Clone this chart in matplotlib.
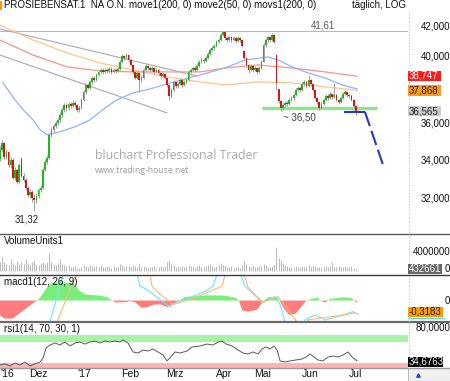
import numpy as np
import matplotlib
matplotlib.use("Agg")
import matplotlib.pyplot as plt
from matplotlib.patches import Rectangle
from matplotlib.lines import Line2D
from matplotlib.ticker import NullLocator, NullFormatter
from matplotlib.transforms import blended_transform_factory

plt.rcParams['font.family'] = ['Liberation Sans', 'DejaVu Sans']

# ---------------- data ----------------
opens = [34.00, 34.51, 34.89, 34.13, 34.40, 33.70, 33.97, 33.02, 33.44, 32.82,
         34.00, 33.13, 32.92, 32.50, 32.15, 32.30, 32.00, 31.90, 32.10, 32.40,
         32.50, 33.44, 33.86, 34.08, 35.33, 35.61, 35.83, 36.00, 36.17, 36.46,
         36.74, 37.03, 36.86, 37.09, 36.97, 37.15, 37.03, 36.74, 36.86, 37.33,
         37.80, 38.22, 38.04, 38.40, 38.64, 38.52, 38.82, 39.01, 39.13, 39.01,
         39.13, 39.07, 39.19, 39.01, 39.13, 39.07, 39.19, 39.63, 40.00, 39.87,
         40.06, 39.75, 39.44, 39.01, 38.64, 38.95, 38.52, 38.64, 39.13, 39.38,
         39.25, 39.13, 39.25, 39.01, 39.13, 38.95, 38.76, 38.88, 38.64, 38.22,
         37.56, 37.92, 38.40, 38.16, 38.28, 38.52, 38.22, 38.40, 38.52, 39.01,
         39.13, 39.25, 39.13, 39.38, 39.63, 39.75, 39.69, 39.87, 40.12, 40.38,
         40.51, 40.64, 40.89, 41.02, 41.34, 41.54, 41.15, 41.02, 41.21, 41.02,
         41.15, 40.96, 41.15, 41.02, 40.30, 39.87, 39.44, 39.13, 39.38, 39.13,
         39.25, 39.01, 39.25, 39.63, 40.70, 41.02, 41.21, 41.02, 41.34, 40.06,
         37.95, 37.27, 36.86, 37.03, 37.15, 37.09, 37.33, 37.45, 37.62, 37.92,
         38.04, 37.92, 38.28, 38.40, 38.16, 38.52, 38.28, 37.92, 37.45, 37.21,
         36.86, 37.09, 37.33, 37.56, 37.45, 37.68, 37.50, 37.62, 37.33, 37.21,
         37.45, 37.68, 37.80, 37.62, 37.56, 37.33, 36.97]
closes = [34.51, 34.89, 34.13, 34.40, 33.70, 33.97, 33.02, 33.44, 32.82, 33.70,
          33.13, 32.92, 32.50, 32.15, 32.30, 32.00, 31.90, 32.10, 32.40, 32.50,
          33.44, 33.86, 34.08, 35.33, 35.61, 35.83, 36.00, 36.17, 36.46, 36.74,
          37.03, 36.86, 37.09, 36.97, 37.15, 37.03, 36.74, 36.86, 37.33, 37.80,
          38.22, 38.04, 38.40, 38.64, 38.52, 38.82, 39.01, 39.13, 39.01, 39.13,
          39.07, 39.19, 39.01, 39.13, 39.07, 39.19, 39.63, 40.00, 39.87, 40.06,
          39.75, 39.44, 39.01, 38.64, 38.95, 38.52, 38.64, 39.13, 39.38, 39.25,
          39.13, 39.25, 39.01, 39.13, 38.95, 38.76, 38.88, 38.64, 38.22, 37.56,
          37.92, 38.40, 38.16, 38.28, 38.52, 38.22, 38.40, 38.52, 39.01, 39.13,
          39.25, 39.13, 39.38, 39.63, 39.75, 39.69, 39.87, 40.12, 40.38, 40.51,
          40.64, 40.89, 41.02, 41.34, 41.54, 41.15, 41.02, 41.21, 41.02, 41.15,
          40.96, 41.15, 41.02, 40.64, 39.87, 39.44, 39.13, 39.38, 39.13, 39.25,
          39.01, 39.25, 39.63, 40.70, 41.02, 41.21, 41.02, 41.34, 40.89, 38.34,
          37.27, 36.86, 37.03, 37.15, 37.09, 37.33, 37.45, 37.62, 37.92, 38.04,
          37.92, 38.28, 38.40, 38.16, 38.52, 38.28, 37.92, 37.45, 37.21, 36.86,
          37.09, 37.33, 37.56, 37.45, 37.68, 37.50, 37.62, 37.33, 37.21, 37.45,
          37.68, 37.80, 37.62, 37.56, 37.33, 36.97, 36.57]
highs = [34.70, 35.05, 34.95, 34.55, 34.45, 34.10, 34.05, 33.60, 33.50, 33.80,
         34.10, 33.25, 33.00, 32.60, 32.45, 32.40, 32.20, 32.25, 32.50, 32.65,
         33.55, 34.00, 34.20, 35.45, 35.75, 35.95, 36.10, 36.30, 36.60, 36.90,
         37.15, 37.15, 37.20, 37.20, 37.30, 37.25, 37.10, 37.00, 37.45, 37.90,
         38.35, 38.35, 38.50, 38.75, 38.75, 38.95, 39.15, 39.25, 39.25, 39.25,
         39.25, 39.30, 39.30, 39.25, 39.25, 39.30, 39.75, 40.10, 40.06, 40.19,
         40.10, 39.85, 39.50, 39.05, 39.05, 39.00, 38.80, 39.25, 39.50, 39.45,
         39.35, 39.35, 39.30, 39.25, 39.20, 39.00, 39.00, 38.95, 38.70, 38.30,
         38.05, 38.50, 38.45, 38.40, 38.65, 38.60, 38.50, 38.65, 39.10, 39.25,
         39.35, 39.35, 39.50, 39.75, 39.85, 39.85, 40.00, 40.25, 40.50, 40.65,
         40.75, 41.00, 41.15, 41.45, 41.61, 41.55, 41.25, 41.30, 41.30, 41.25,
         41.20, 41.25, 41.20, 41.05, 40.35, 39.95, 39.50, 39.50, 39.45, 39.35,
         39.30, 39.35, 39.75, 40.80, 41.15, 41.30, 41.30, 41.45, 41.40, 40.15,
         38.00, 37.35, 37.15, 37.25, 37.25, 37.45, 37.55, 37.75, 38.05, 38.15,
         38.15, 38.40, 38.50, 38.45, 38.82, 38.60, 38.35, 38.00, 37.50, 37.25,
         37.20, 37.45, 37.65, 37.65, 37.80, 37.75, 38.34, 37.70, 37.40, 37.55,
         37.80, 37.90, 37.85, 37.70, 37.65, 37.40, 37.00]
lows = [33.90, 34.40, 34.00, 34.00, 33.60, 33.55, 32.95, 32.90, 32.70, 32.75,
        33.05, 32.80, 32.40, 32.05, 32.00, 31.80, 31.32, 31.75, 32.00, 32.30,
        32.45, 33.35, 33.75, 34.00, 35.20, 35.50, 35.70, 35.90, 36.05, 36.35,
        36.65, 36.70, 36.75, 36.85, 36.90, 36.90, 36.60, 36.60, 36.80, 37.25,
        37.70, 37.95, 37.95, 38.30, 38.40, 38.45, 38.75, 38.90, 38.90, 38.95,
        38.95, 38.95, 38.90, 38.95, 38.95, 39.00, 39.10, 39.55, 39.75, 39.80,
        39.65, 39.35, 38.90, 38.55, 38.55, 37.80, 38.40, 38.60, 39.05, 39.10,
        39.00, 39.05, 38.90, 38.95, 38.85, 38.65, 38.70, 38.55, 38.10, 37.33,
        37.45, 37.85, 38.05, 38.05, 38.20, 38.10, 38.15, 38.30, 38.45, 38.95,
        39.05, 39.00, 39.05, 39.30, 39.55, 39.55, 39.60, 39.80, 40.05, 40.30,
        40.40, 40.55, 40.80, 40.95, 41.25, 41.05, 40.90, 40.95, 40.90, 40.95,
        40.85, 40.90, 40.90, 40.55, 39.75, 39.30, 38.95, 39.05, 39.00, 39.05,
        38.90, 38.95, 39.20, 39.60, 40.60, 40.90, 40.90, 40.95, 40.80, 37.92,
        37.15, 36.70, 36.75, 36.90, 36.95, 37.00, 37.25, 37.35, 37.55, 37.85,
        37.80, 37.85, 38.15, 38.05, 38.10, 38.15, 37.80, 37.35, 37.10, 36.75,
        36.80, 37.00, 37.25, 37.35, 37.40, 37.40, 37.45, 37.25, 37.10, 37.15,
        37.40, 37.60, 37.50, 37.45, 37.25, 36.85, 36.45]
volume_mio = [1.8, 3.0, 2.0, 1.5, 1.2, 2.5, 1.6, 1.3, 2.2, 1.5,
              1.8, 1.4, 2.6, 1.6, 1.2, 1.9, 2.4, 1.5, 1.3, 1.6,
              1.8, 1.4, 2.0, 3.7, 1.9, 1.5, 1.3, 1.6, 2.6, 1.4,
              1.2, 1.0, 1.3, 0.9, 0.8, 1.1, 0.7, 0.6, 0.9, 1.2,
              1.0, 0.9, 1.3, 1.1, 0.8, 1.0, 0.9, 1.2, 0.8, 0.9,
              1.0, 0.8, 0.7, 1.1, 0.9, 0.8, 1.4, 1.2, 0.9, 1.0,
              1.1, 0.9, 1.3, 1.0, 0.8, 1.6, 0.9, 1.1, 0.8, 0.7,
              0.9, 0.8, 1.0, 0.7, 0.9, 1.1, 0.8, 1.0, 1.8, 2.3,
              1.5, 1.2, 0.9, 1.0, 0.8, 1.1, 0.9, 0.8, 1.2, 1.0,
              0.9, 0.8, 1.1, 1.3, 0.9, 0.8, 1.0, 1.2, 1.4, 1.1,
              0.9, 1.0, 1.2, 1.6, 1.3, 1.1, 0.9, 0.8, 1.0, 0.7,
              0.8, 0.9, 0.7, 1.2, 2.2, 1.4, 1.0, 0.8, 1.3, 0.9,
              0.8, 1.0, 1.1, 1.5, 1.2, 0.9, 0.8, 1.0, 1.3, 5.1,
              2.7, 2.3, 1.6, 1.2, 1.0, 0.8, 0.9, 0.7, 1.0, 0.8,
              0.9, 1.1, 0.8, 0.9, 1.2, 0.8, 1.0, 1.1, 0.9, 0.8,
              0.7, 0.9, 1.0, 0.8, 1.1, 2.0, 0.9, 0.8, 1.0, 0.9,
              0.8, 1.0, 0.9, 0.8, 1.1, 0.7, 0.43]

# moving averages (day index, price)
ma_slow_x = [0, 15.4, 31.3, 46.7, 62.1, 77.9, 93.3, 105, 120.4, 136.3, 151.7, 166.6]
ma_orange = [42.00, 41.02, 40.19, 39.56, 39.13, 38.70, 38.40, 38.22, 38.40, 38.34, 38.10, 37.90]
ma_red = [41.02, 40.06, 39.32, 39.07, 39.01, 39.01, 39.01, 39.25, 39.44, 39.25, 39.01, 38.75]
ma_blue_x = [1.4, 7, 11.7, 15.4, 18.7, 21.9, 28, 35, 42, 49, 54.6, 62.1, 70, 77.9,
             93.3, 105, 114.3, 125.1, 129.7, 136.3, 143.7, 151.7, 159.6, 166.6]
ma_blue = [38.34, 37.33, 36.63, 36.17, 35.61, 35.33, 35.50, 35.78, 36.17, 36.86, 37.33, 37.74, 37.98, 38.28,
           38.82, 39.25, 39.75, 39.94, 39.75, 39.32, 38.95, 38.64, 38.22, 37.98]

trend_a = ([0, 91.9], [41.74, 38.76])
trend_b = ([0, 77.9], [40.06, 36.57])
resistance = 41.61
support = ([122.3, 175.9], [36.86, 36.86])
proj_flat = ([160.5, 170.3], [36.63, 36.63])
proj_down = ([170.3, 179.2], [36.63, 33.54])

# MACD (day index, value)
hist_x = [0, 2, 6, 10, 16, 17.5, 19, 22, 24, 27, 34, 37, 40, 47, 50, 52.5, 54, 58, 61, 63,
          66, 69, 72, 75, 78, 81, 84, 86, 88, 93, 97, 105, 110, 111.5, 113, 116, 120, 123, 125, 129,
          130.5, 132, 135, 138, 141, 143, 148, 149.5, 152, 154, 160, 164, 165.5, 166.5]
hist_v = [-0.45, -0.55, -0.55, -0.35, -0.05, 0.0, 0.12, 0.40, 0.53, 0.56, 0.54, 0.30, 0.18, 0.15, 0.10, 0.0, -0.06, -0.05, -0.02, -0.05,
          -0.22, -0.2, -0.12, -0.12, -0.2, -0.08, 0.0, 0.1, 0.12, 0.14, 0.16, 0.15, 0.08, 0.0, -0.3, -0.34, -0.28, 0.0, 0.1, 0.12,
          0.0, -0.2, -0.44, -0.4, -0.15, 0.0, 0.1, 0.0, -0.06, 0.05, 0.1, 0.08, 0.0, -0.08]
macd_x = [16.3, 23.3, 29.4, 35.0, 51.3, 62.5, 65.3, 68.6, 74.7, 79.3, 82.1, 88.7, 95.7, 99.4, 103.6,
          109.7, 114.3, 122.3, 128.3, 130.7, 133.0, 136.3, 141.4, 142.3, 147.0, 151.7, 158.7, 164.7, 166.6]
macd_v = [-2.47, -0.66, 0.78, 1.91, 3.16, 1.22, 0.44, 0.34, 0.03, -0.19, -0.06, 0.09, 0.28, 0.44, 1.22,
          1.22, 0.44, -0.06, 0.12, -0.12, -0.66, -1.38, -0.91, -0.59, -0.44, -0.59, -0.47, -0.34, -0.41]
signal_x = [21.0, 26.6, 33.6, 39.7, 56.0, 69.1, 70.9, 74.7, 80.7, 84.0, 91.0, 98.0, 103.6, 106.4, 112.0,
            115.7, 122.7, 129.7, 134.4, 138.6, 141.4, 143.7, 154.0, 165.7, 167.1]
signal_v = [-2.47, -0.66, 0.5, 1.28, 2.53, 1.13, 0.44, 0.19, -0.12, -0.06, 0.09, 0.28, 0.44, 1.13, 1.22,
            0.41, -0.06, 0.12, -0.28, -0.66, -1.06, -0.59, -0.5, -0.38, -0.41]

# RSI (day index, value)
rsi_x = [0, 2.3, 4.7, 7, 9.3, 11.7, 14, 16.3, 18.7, 20.1, 21.5, 23.3, 25.7, 28, 30.3, 32.7, 35, 37.3,
         39.7, 42, 44.3, 46.7, 49, 51.3, 53.7, 56, 57.4, 59.7, 62.1, 64.4, 66.7, 69.1, 71.4, 73.7,
         76.1, 77.9, 79.3, 81.7, 84, 87.3, 89.6, 93.3, 96.6, 99.4, 101.7, 103.6, 105.5, 108.3, 111.1,
         113.4, 115.7, 118.1, 120.4, 122.3, 124.1, 126, 127.9, 129.3, 130.7, 133, 135.3, 138.1, 140.9,
         142.8, 144.7, 146.5, 148.4, 150.7, 153.1, 155.4, 157.7, 160.1, 162.4, 164.3, 166.6]
rsi_v = [29.3, 30.7, 28, 32, 29.3, 33.3, 28, 30.7, 33.3, 38.7, 52, 56, 58.7, 56, 60, 54.7, 58.7, 60,
         57.3, 60, 61.3, 58.7, 61.3, 60, 61.3, 60, 62.7, 58.7, 46.7, 45.3, 49.3, 48, 50.7, 46.7,
         42.7, 34.7, 38.7, 46.7, 45.3, 48, 53.3, 54.7, 57.3, 56, 60, 61.3, 57.3, 54.7, 49.3,
         45.3, 44, 46.7, 44, 50.7, 53.3, 50.7, 54.7, 49.3, 34.7, 33.3, 34.7, 36, 37.3,
         40, 44, 40, 36, 34.7, 40, 41.3, 40, 42.7, 46.7, 40, 34.7]

month_pos = [0.3, 18.0, 39.2, 60.7, 81.7, 104.5, 122.3, 144.7, 165.7]
month_lbl = ["'16", "Dez", "'17", "Feb", "Mrz", "Apr", "Mai", "Jun", "Jul"]
price_ticks = [32, 34, 36, 40, 42]
price_tick_lbl = ["32,000", "34,000", "36,000", "40,000", "42,000"]

# ---------------- layout helpers ----------------
W, H = 450, 381
def fx(x): return x / W
def fy(y): return 1 - y / H

fig = plt.figure(figsize=(4.5, 3.81), dpi=100)
fig.patch.set_facecolor('white')
XMAX = 408 / 2.143

def add_ax(y0, y1):
    ax = fig.add_axes([0, fy(y1), 408 / W, (y1 - y0) / H])
    ax.set_xlim(0, XMAX)
    for s in ax.spines.values():
        s.set_visible(False)
    ax.tick_params(left=False, bottom=False, right=False, labelleft=False, labelbottom=False)
    ax.set_facecolor('none')
    return ax

# ---------------- main price panel ----------------
ax = add_ax(12, 234)
ax.set_yscale('log')
ax.set_ylim(30.22, 42.87)
ax.yaxis.set_minor_locator(NullLocator())
ax.yaxis.set_minor_formatter(NullFormatter())
ax.yaxis.tick_right()
ax.set_yticks(price_ticks)
ax.set_yticklabels(price_tick_lbl)
ax.tick_params(axis='y', which='major', length=0, pad=42 * 0.72, labelsize=7,
               labelright=True, labelleft=False, labelcolor='#111111')
for lbl in ax.get_yticklabels():
    lbl.set_horizontalalignment('right')

ax.axhline(resistance, color='#b8b8b8', lw=0.8, zorder=1)
ax.plot(*trend_a, color='#a9a9a9', lw=0.8, zorder=1)
ax.plot(*trend_b, color='#a9a9a9', lw=0.8, zorder=1)
ax.plot(ma_slow_x, ma_orange, color='#ffc58a', lw=0.9, zorder=1)
ax.plot(ma_slow_x, ma_red, color='#ff8f8f', lw=0.9, zorder=1)
ax.plot(ma_blue_x, ma_blue, color='#92b2ff', lw=0.9, zorder=1)
ax.plot(*support, color='#90e290', lw=2.4, solid_capstyle='butt', zorder=2)

x = np.arange(len(closes))
o = np.array(opens); c = np.array(closes)
ax.vlines(x, lows, highs, color='#a0a0a0', lw=0.7, zorder=3)
cols = np.where(c >= o, '#1fb81f', '#d81515')
ax.bar(x, np.maximum(np.abs(c - o), 0.05), bottom=np.minimum(o, c), width=0.85,
       color=cols, linewidth=0, zorder=4)

ax.plot(*proj_flat, color='#2638c8', lw=1.5, solid_capstyle='butt', zorder=5)
ax.plot(*proj_down, color='#2638c8', lw=1.5, dashes=(7.2, 2.4), zorder=5)

ax.text(12.6, 30.94, '31,32', fontsize=7, color='#222222', ha='center', va='center')
ax.text(139.5, 36.28, '~ 36,50', fontsize=7, color='#444444', ha='center', va='center')
ax.text(150.7, 42.0, '41,61', fontsize=7, color='#555555', ha='center', va='center')

fig.text(fx(95), fy(156), 'bluchart Professional Trader', fontsize=8.8, color='#aaaaaa',
         family=['Open Sans', 'DejaVu Sans'], ha='left', va='center')
fig.text(fx(95), fy(170.5), 'www.trading-house.net', fontsize=6.2, color='#9e9e9e',
         family=['Open Sans', 'DejaVu Sans'], ha='left', va='center')

# title bar
fig.add_artist(Rectangle((0, fy(10)), fx(2), 9 / H, transform=fig.transFigure, fc='#ff9900', ec='none'))
fig.text(fx(4), fy(5.5), 'PROSIEBENSAT.1  NA O.N. move1(200, 0) move2(50, 0) movs1(200, 0)',
         fontsize=7, color='#111111', ha='left', va='center')
fig.text(fx(406), fy(5.5), 't\u00e4glich, LOG', fontsize=7, color='#111111', ha='right', va='center')

# ---------------- volume panel ----------------
axv = add_ax(235, 274)
axv.set_ylim(-0.63, 7.58)
axv.vlines(x, 0, volume_mio, color='#bdbdbd', lw=0.8)

# ---------------- MACD panel ----------------
axm = add_ax(275, 321)
axm.set_ylim(-0.625, 0.78)
hx = np.array(hist_x); hv = np.array(hist_v)
axm.fill_between(hx, hv, 0, where=hv >= 0, interpolate=True, color='#7aee7a', lw=0)
axm.fill_between(hx, hv, 0, where=hv <= 0, interpolate=True, color='#ff7c7c', lw=0)
axm.plot(macd_x, macd_v, color='#6ae6ff', lw=0.8)
axm.plot(signal_x, signal_v, color='#ffb878', lw=0.8)

# ---------------- RSI panel ----------------
axr = add_ax(322, 368)
axr.set_ylim(25.3, 86.7)
axr.axhspan(60, 69.3, color='#a9f3a9', lw=0)
axr.axhspan(25.3, 32, color='#ffb4b4', lw=0)
axr.plot(rsi_x, rsi_v, color='#595959', lw=0.7)
mtrans = blended_transform_factory(axr.transData, fig.transFigure)
for i, (p, s) in enumerate(zip(month_pos, month_lbl)):
    axr.text(p, fy(374), s, transform=mtrans, fontsize=7.5, color='#111111',
             ha='left' if i == 0 else 'center', va='center', clip_on=False)

# panel labels
fig.text(fx(4), fy(240.5), 'VolumeUnits1', fontsize=7, color='#111111', va='center')
fig.text(fx(4), fy(282), 'macd1(12, 26, 9)', fontsize=7, color='#111111', va='center')
fig.text(fx(4), fy(329), 'rsi1(14, 70, 30, 1)', fontsize=7, color='#111111', va='center')

# separators and right-axis decoration
def hline(y, color, lw, x0=0, x1=450):
    fig.add_artist(Line2D([fx(x0), fx(x1)], [fy(y), fy(y)], transform=fig.transFigure, color=color, lw=lw))
hline(234, '#5a5a5a', 1.0)
hline(274.5, '#3a3a3a', 1.0)
hline(321.5, '#6a6a6a', 1.6)
hline(367.8, '#9a9a9a', 1.0)
fig.add_artist(Line2D([fx(408.5), fx(408.5)], [fy(12), fy(368)], transform=fig.transFigure,
                      color='#e9c277', lw=0.8, ls=(0, (1, 1.5))))

def rtext(y, s):
    fig.text(fx(450), fy(y), s, fontsize=7, color='#111111', ha='right', va='center')

def box(y, s, bg, fg, x1=441):
    fig.add_artist(Rectangle((fx(408), fy(y + 5)), (x1 - 408) / W, 10 / H, transform=fig.transFigure,
                             fc=bg, ec='none', zorder=5))
    fig.text(fx(409), fy(y), s, fontsize=7, color=fg, ha='left', va='center', zorder=6)

box(76, '38,747', '#ff1a1a', 'white')
box(90.5, '37,868', '#ff9a1a', '#222222')
box(111, '36,565', '#cdcdcd', '#222222')

rtext(252, '4000000')
rtext(268.5, '0')
box(269, '432661', '#6a6a6a', 'white', x1=442)

rtext(301, '0')
fig.add_artist(Line2D([fx(408), fx(444)], [fy(318), fy(318)], transform=fig.transFigure, color='#55d8f0', lw=1.0))
box(311.5, '-0,3183', '#ff9a00', '#222222', x1=443)

rtext(327, '80,0000')
box(361.5, '34,6763', '#000000', 'white', x1=443)

fig.add_artist(Rectangle((fx(408), fy(381)), 42 / W, 13 / H, transform=fig.transFigure,
                         fc='#f0f0f0', ec='#bbbbbb', lw=0.8))
fig.add_artist(Line2D([fx(418)], [fy(375)], transform=fig.transFigure, marker='^', ms=2.5,
                      color='#2244cc', lw=0))

fig.savefig('out.png', dpi=100, facecolor='white')
